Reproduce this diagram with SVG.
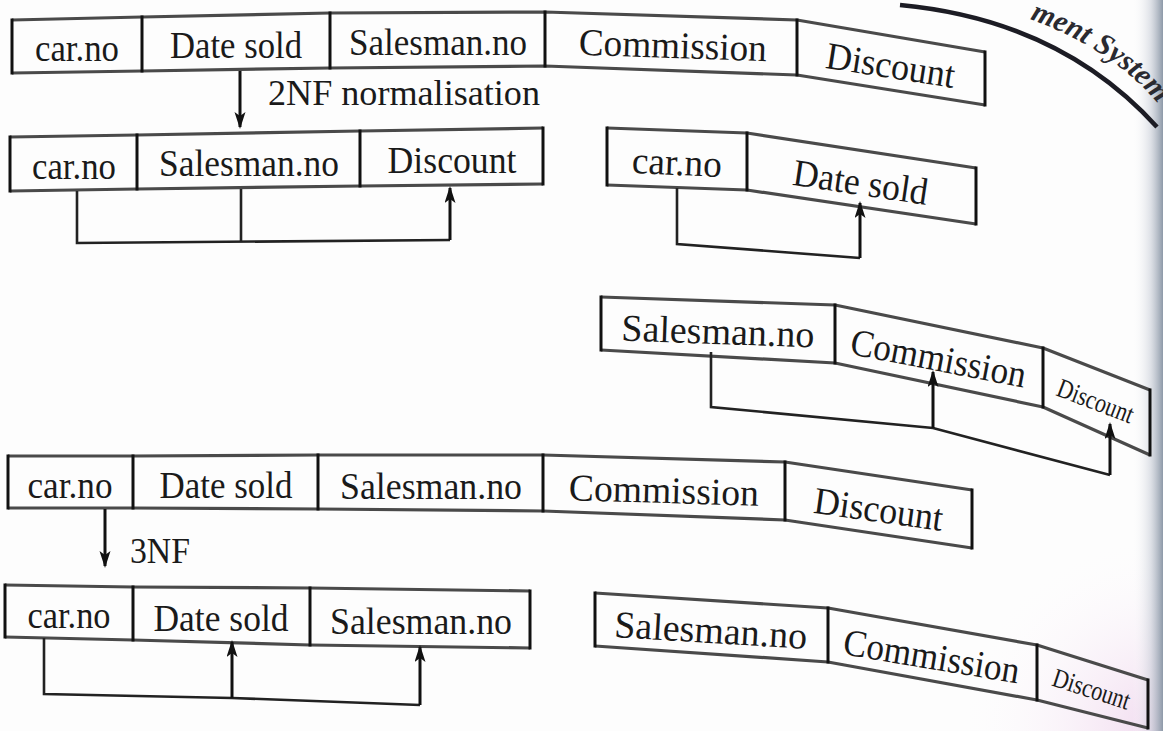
<svg xmlns="http://www.w3.org/2000/svg" width="1163" height="731" viewBox="0 0 1163 731">
  <defs>
    <style>
      .edge { fill: none; stroke: #4a4a4a; stroke-width: 3.2; stroke-linejoin: round; }
      .div { stroke: #111; stroke-width: 3; stroke-linecap: square; }
      .cell { font-family: "Liberation Serif", "DejaVu Serif", serif; font-size: 38px; fill: #1a1a1a; text-anchor: middle; }
      .small { font-size: 27px; }
      .label { font-family: "Liberation Serif", "DejaVu Serif", serif; font-size: 36px; fill: #1a1a1a; }
      .conn { fill: none; stroke: #222; stroke-width: 2.6; stroke-linejoin: miter; }
      .arrow { fill: none; stroke: #111; stroke-width: 3; marker-end: url(#ah); }
      .header { font-family: "Liberation Serif", "DejaVu Serif", serif; font-size: 30px; font-weight: bold; font-style: italic; fill: #2a2a30; }
    </style>
    <marker id="ah" markerWidth="18" markerHeight="12" refX="15" refY="5.5" orient="auto" markerUnits="userSpaceOnUse">
      <path d="M0,0 L17,5.5 L0,11 L4,5.5 Z" fill="#111"/>
    </marker>
    <linearGradient id="spine" x1="0" y1="0" x2="1" y2="0">
      <stop offset="0" stop-color="#ffffff" stop-opacity="0"/>
      <stop offset="0.6" stop-color="#c9ced8" stop-opacity="0.6"/>
      <stop offset="1" stop-color="#8d99a8"/>
    </linearGradient>
    <radialGradient id="tint" cx="1" cy="1" r="0.8">
      <stop offset="0" stop-color="#f0d8ee"/>
      <stop offset="1" stop-color="#ffffff" stop-opacity="0"/>
    </radialGradient>
    <path id="hdrPath" d="M 900,-8 Q 1080,10 1158,104"/>
  </defs>

  <!-- page -->
  <rect width="1163" height="731" fill="#fdfdfd"/>
  <rect x="900" y="480" width="263" height="251" fill="url(#tint)"/>
  <rect x="1132" y="0" width="31" height="731" fill="url(#spine)"/>

  <!-- running header -->
  <g id="header">
    <path d="M 900,5 Q 1060,20 1157,127" fill="none" stroke="#1c1c24" stroke-width="4.5"/>
    <text class="header"><textPath href="#hdrPath" startOffset="100%" text-anchor="end">ment System</textPath></text>
  </g>

  <!-- relation: full table (top) -->
  <g id="table-full-1">
    <path class="edge" d="M12,20 L142,17 L330,13 L545,12 L797,20 L985,52"/>
    <path class="edge" d="M12,73 L142,71 L330,68 L545,66 L797,75 L985,105"/>
    <line class="div" x1="12" y1="20" x2="12" y2="73"/>
    <line class="div" x1="142" y1="17" x2="142" y2="71"/>
    <line class="div" x1="330" y1="13" x2="330" y2="68"/>
    <line class="div" x1="545" y1="12" x2="545" y2="66"/>
    <line class="div" x1="797" y1="20" x2="797" y2="75"/>
    <line class="div" x1="985" y1="52" x2="985" y2="105"/>
    <text class="cell" x="77" y="61" textLength="84" lengthAdjust="spacingAndGlyphs">car.no</text>
    <text class="cell" x="236" y="58" textLength="132" lengthAdjust="spacingAndGlyphs">Date sold</text>
    <text class="cell" x="438" y="55" textLength="178" lengthAdjust="spacingAndGlyphs">Salesman.no</text>
    <text class="cell" x="673" y="58" textLength="188" lengthAdjust="spacingAndGlyphs" transform="rotate(2 673 44)">Commission</text>
    <text class="cell" x="891" y="78" textLength="130" lengthAdjust="spacingAndGlyphs" transform="rotate(9 891 63)">Discount</text>
  </g>

  <!-- step: 2NF -->
  <g id="step-2nf">
    <line class="arrow" x1="240" y1="71" x2="240" y2="127"/>
    <text class="label" x="268" y="105" textLength="272" lengthAdjust="spacingAndGlyphs">2NF normalisation</text>
  </g>

  <!-- 2NF: car / salesman / discount -->
  <g id="table-2nf-a">
    <path class="edge" d="M10,137 L137,135 L360,131 L543,128"/>
    <path class="edge" d="M10,191 L137,189 L360,186 L543,184"/>
    <line class="div" x1="10" y1="137" x2="10" y2="191"/>
    <line class="div" x1="137" y1="135" x2="137" y2="189"/>
    <line class="div" x1="360" y1="131" x2="360" y2="186"/>
    <line class="div" x1="543" y1="128" x2="543" y2="184"/>
    <text class="cell" x="74" y="179" textLength="84" lengthAdjust="spacingAndGlyphs">car.no</text>
    <text class="cell" x="249" y="176" textLength="180" lengthAdjust="spacingAndGlyphs">Salesman.no</text>
    <text class="cell" x="452" y="173" textLength="129" lengthAdjust="spacingAndGlyphs">Discount</text>
  </g>

  <!-- 2NF: car / date sold -->
  <g id="table-2nf-b">
    <path class="edge" d="M607,128 L747,133 L976,168"/>
    <path class="edge" d="M607,185 L747,190 L976,224"/>
    <line class="div" x1="607" y1="128" x2="607" y2="185"/>
    <line class="div" x1="747" y1="133" x2="747" y2="190"/>
    <line class="div" x1="976" y1="168" x2="976" y2="224"/>
    <text class="cell" x="677" y="175" textLength="90" lengthAdjust="spacingAndGlyphs" transform="rotate(2.5 677 160)">car.no</text>
    <text class="cell" x="861" y="195" textLength="136" lengthAdjust="spacingAndGlyphs" transform="rotate(8.5 861 180)">Date sold</text>
  </g>

  <!-- 2NF: salesman / commission / discount -->
  <g id="table-2nf-c">
    <path class="edge" d="M601,297 L835,305 L1043,348 L1150,390"/>
    <path class="edge" d="M601,350 L835,363 L1043,407 L1150,455"/>
    <line class="div" x1="601" y1="297" x2="601" y2="350"/>
    <line class="div" x1="835" y1="305" x2="835" y2="363"/>
    <line class="div" x1="1043" y1="348" x2="1043" y2="407"/>
    <line class="div" x1="1150" y1="390" x2="1150" y2="455"/>
    <text class="cell" x="718" y="344" textLength="193" lengthAdjust="spacingAndGlyphs" transform="rotate(2 718 329)">Salesman.no</text>
    <text class="cell" x="939" y="371" textLength="178" lengthAdjust="spacingAndGlyphs" transform="rotate(11 939 356)">Commission</text>
    <text class="cell small" x="1096" y="410" textLength="80" lengthAdjust="spacingAndGlyphs" transform="rotate(21 1096 400)">Discount</text>
  </g>

  <!-- relation: full table (middle) -->
  <g id="table-full-2">
    <path class="edge" d="M8,456 L133,456 L318,455 L543,455 L785,462 L972,490"/>
    <path class="edge" d="M8,508 L133,508 L318,509 L543,511 L785,520 L972,548"/>
    <line class="div" x1="8" y1="456" x2="8" y2="508"/>
    <line class="div" x1="133" y1="456" x2="133" y2="508"/>
    <line class="div" x1="318" y1="455" x2="318" y2="509"/>
    <line class="div" x1="543" y1="455" x2="543" y2="511"/>
    <line class="div" x1="785" y1="462" x2="785" y2="520"/>
    <line class="div" x1="972" y1="490" x2="972" y2="548"/>
    <text class="cell" x="70" y="498" textLength="85" lengthAdjust="spacingAndGlyphs">car.no</text>
    <text class="cell" x="226" y="498" textLength="133" lengthAdjust="spacingAndGlyphs">Date sold</text>
    <text class="cell" x="431" y="499" textLength="182" lengthAdjust="spacingAndGlyphs">Salesman.no</text>
    <text class="cell" x="664" y="503" textLength="190" lengthAdjust="spacingAndGlyphs" transform="rotate(1.7 664 488)">Commission</text>
    <text class="cell" x="879" y="522" textLength="130" lengthAdjust="spacingAndGlyphs" transform="rotate(8 879 507)">Discount</text>
  </g>

  <!-- step: 3NF -->
  <g id="step-3nf">
    <line class="arrow" x1="105" y1="509" x2="105" y2="566"/>
    <text class="label" x="130" y="563" textLength="60" lengthAdjust="spacingAndGlyphs">3NF</text>
  </g>

  <!-- 3NF: car / date sold / salesman -->
  <g id="table-3nf-a">
    <path class="edge" d="M5,585 L133,587 L310,588 L530,591"/>
    <path class="edge" d="M5,637 L133,640 L310,645 L530,648"/>
    <line class="div" x1="5" y1="585" x2="5" y2="637"/>
    <line class="div" x1="133" y1="587" x2="133" y2="640"/>
    <line class="div" x1="310" y1="588" x2="310" y2="645"/>
    <line class="div" x1="530" y1="591" x2="530" y2="648"/>
    <text class="cell" x="69" y="628" textLength="83" lengthAdjust="spacingAndGlyphs">car.no</text>
    <text class="cell" x="221" y="631" textLength="135" lengthAdjust="spacingAndGlyphs">Date sold</text>
    <text class="cell" x="421" y="634" textLength="182" lengthAdjust="spacingAndGlyphs">Salesman.no</text>
  </g>

  <!-- 3NF: salesman / commission / discount -->
  <g id="table-3nf-b">
    <path class="edge" d="M595,593 L828,608 L1037,645 L1148,680"/>
    <path class="edge" d="M595,646 L828,662 L1037,700 L1148,728"/>
    <line class="div" x1="595" y1="593" x2="595" y2="646"/>
    <line class="div" x1="828" y1="608" x2="828" y2="662"/>
    <line class="div" x1="1037" y1="645" x2="1037" y2="700"/>
    <line class="div" x1="1148" y1="680" x2="1148" y2="728"/>
    <text class="cell" x="711" y="643" textLength="193" lengthAdjust="spacingAndGlyphs" transform="rotate(3.5 711 628)">Salesman.no</text>
    <text class="cell" x="932" y="669" textLength="178" lengthAdjust="spacingAndGlyphs" transform="rotate(9.5 932 654)">Commission</text>
    <text class="cell small" x="1092" y="698" textLength="80" lengthAdjust="spacingAndGlyphs" transform="rotate(18 1092 688)">Discount</text>
  </g>

  <!-- dependency connectors -->
  <g id="connectors">
    <path class="conn" d="M77,191 V243 L450,240"/>
    <line class="conn" x1="241" y1="189" x2="241" y2="242"/>
    <line class="arrow" x1="450" y1="240" x2="450" y2="188"/>

    <path class="conn" d="M677,188 V244 L860,258"/>
    <line class="arrow" x1="860" y1="258" x2="860" y2="203"/>

    <path class="conn" d="M711,352 V407 L933,428 L1110,475"/>
    <line class="arrow" x1="933" y1="428" x2="933" y2="372"/>
    <line class="arrow" x1="1110" y1="475" x2="1110" y2="424"/>

    <path class="conn" d="M44,638 V694 L232,698 L420,705"/>
    <line class="arrow" x1="232" y1="698" x2="232" y2="642"/>
    <line class="arrow" x1="420" y1="705" x2="420" y2="647"/>
  </g>
</svg>
